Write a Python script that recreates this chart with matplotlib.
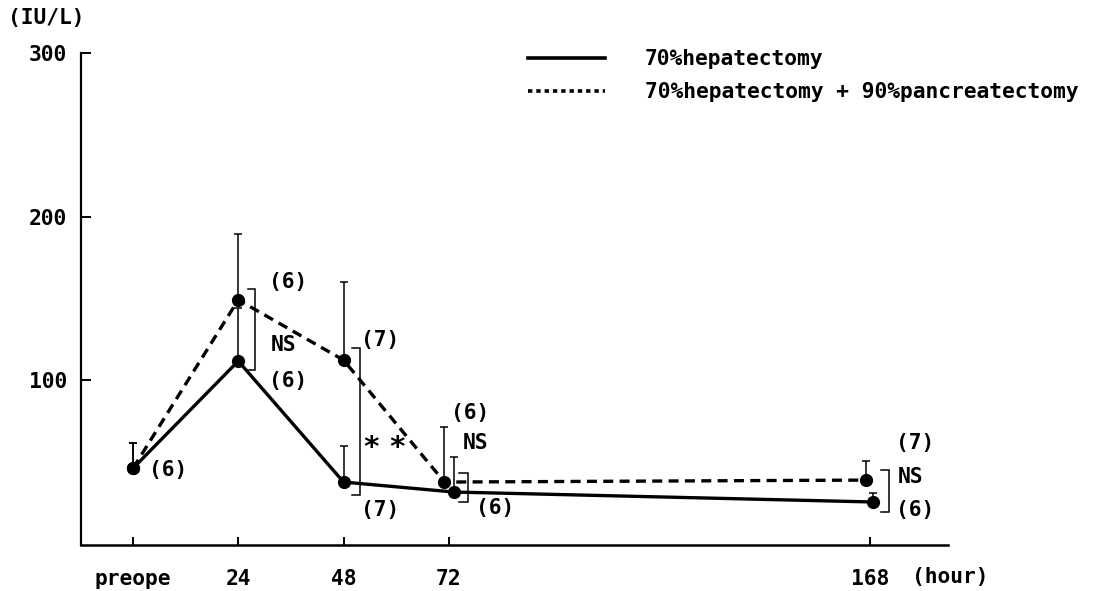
import matplotlib
matplotlib.use("Agg")
import matplotlib.pyplot as plt
import numpy as np
from matplotlib.lines import Line2D

# ---- data ----
hours = [0, 24, 48, 72, 168]
tick_labels = ["preope", "24", "48", "72", "168"]
hep_mean = [46, 111.6, 37.6, 31.5, 25.4]
hep_sd = [15.3, 32.5, 22.0, 21.4, 5.5]
pan_mean = [46, 149, 112.2, 37.6, 38.8]
pan_sd = [15.3, 40.3, 48.0, 33.7, 11.6]
hep_shift = [0, 0, 0, 1.1, 0.8]
pan_shift = [0, 0, 0, -1.0, -0.8]
series_labels = ["70%hepatectomy", "70%hepatectomy + 90%pancreatectomy"]

FONT = "DejaVu Sans Mono"
plt.rcParams['font.family'] = [FONT]
plt.rcParams['font.weight'] = 'bold'
FS = 15.3

fig = plt.figure(figsize=(10.97, 5.91), dpi=100)
ax = fig.add_axes([81/1097, 1-545/591, (948-81)/1097, (545-53)/591])

xh = np.array(hours) + np.array(hep_shift)
xp = np.array(hours) + np.array(pan_shift)

ax.errorbar(xh, hep_mean, yerr=[np.zeros(len(hep_sd)), hep_sd], fmt='none',
            ecolor='black', elinewidth=1.1, capsize=3, capthick=1.1, zorder=2)
ax.errorbar(xp, pan_mean, yerr=[np.zeros(len(pan_sd)), pan_sd], fmt='none',
            ecolor='black', elinewidth=1.1, capsize=3, capthick=1.1, zorder=2)

l1, = ax.plot(xh, hep_mean, color='black', lw=2.4, marker='o', ms=8.5,
              solid_capstyle='butt', zorder=3, label=series_labels[0])
l2, = ax.plot(xp, pan_mean, color='black', lw=2.4, marker='o', ms=8.5,
              linestyle=(0, (3.0, 1.9)), zorder=3, label=series_labels[1])

# legend (line-only handles)
h1 = Line2D([], [], color='black', lw=2.6)
h2 = Line2D([], [], color='black', lw=2.6, linestyle=(0, (1.2, 1.1)))
ax.legend([h1, h2], series_labels, loc='upper left', frameon=False,
          bbox_to_anchor=(528/1097, 1-49/591), bbox_transform=fig.transFigure,
          borderaxespad=0, borderpad=0, handlelength=3.6, handletextpad=1.9,
          labelspacing=0.62, prop={'family': FONT, 'weight': 'bold', 'size': FS})

# significance brackets and labels
def bracket(x, y0, y1, xl):
    ax.plot([xl, x, x, xl], [y1, y1, y0, y0], color='black', lw=1.1,
            solid_joinstyle='miter', zorder=4)

def txt(x, y, s, ha='center', size=FS):
    ax.text(x, y, s, ha=ha, va='center', fontsize=size, fontweight='bold',
            family=FONT)

bracket(27.8, 106.1, 155.7, 26.2)
txt(35.3, 160, "(6)")
txt(31.3, 121.4, "NS", ha='left')
txt(35.3, 99.4, "(6)")

bracket(51.7, 29.7, 119.6, 49.9)
txt(56.3, 124.5, "(7)")
txt(54.2, 58.5, "*", size=21)
txt(60.3, 58.5, "*", size=21)
txt(56.3, 20.5, "(7)")

bracket(76.4, 25.4, 43.1, 74.3)
txt(76.8, 79.8, "(6)")
txt(78.0, 61.5, "NS")
txt(82.5, 21.7, "(6)")

bracket(172.3, 19.3, 45.0, 170.5)
txt(178.3, 61.5, "(7)")
txt(174.4, 40.7, "NS", ha='left')
txt(178.3, 20.5, "(6)")

txt(7.9, 45, "(6)")

# axes styling
ax.set_xlim(-11.85, 185.8)
ax.set_ylim(-0.9, 300)
ax.set_xticks(hours)
ax.set_xticklabels(tick_labels)
ax.set_yticks([100, 200, 300])
ax.set_yticklabels(["100", "200", "300"])
for s in ['top', 'right']:
    ax.spines[s].set_visible(False)
ax.spines['left'].set_linewidth(1.6)
ax.spines['bottom'].set_linewidth(1.8)
ax.tick_params(axis='y', direction='in', length=7, width=1.4, pad=10,
               labelsize=FS)
ax.tick_params(axis='x', direction='in', length=6, width=1.4, pad=17,
               labelsize=FS)
for lab in ax.get_xticklabels() + ax.get_yticklabels():
    lab.set_fontweight('bold')

fig.text(8/1097, 1-18/591, "(IU/L)", ha='left', va='center', fontsize=FS,
         fontweight='bold', family=FONT)
fig.text(912/1097, 1-577/591, "(hour)", ha='left', va='center', fontsize=FS,
         fontweight='bold', family=FONT)

fig.savefig("out.png", dpi=100)
